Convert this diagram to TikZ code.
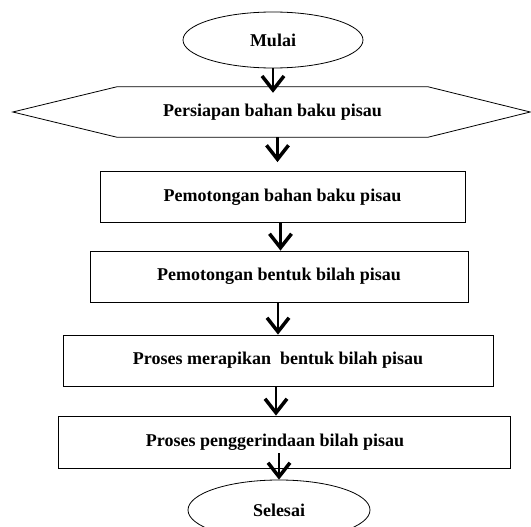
\documentclass[tikz,border=0pt]{standalone}
\usepackage{fontspec}
\setmainfont{Liberation Serif}
\usetikzlibrary{shapes.geometric,arrows.meta}

\begin{document}
\begin{tikzpicture}[x=1pt,y=-1pt,
	font=\fontsize{18}{20}\selectfont\bfseries,
	box/.style={draw,line width=0.8pt,minimum height=51pt,inner sep=0pt},
	oval/.style={draw,ellipse,line width=0.8pt,inner sep=0pt},
	arr/.style={line width=2.5pt,-{Straight Barb[length=14pt,width=22pt,line width=3.5pt]}}]
	\clip (0,0) rectangle (531,527);
	\useasboundingbox (0,0) rectangle (531,527);
%
	\node[oval,minimum width=180pt,minimum height=56pt] (mulai) at (273,40) {Mulai};
	\node[minimum width=311pt,minimum height=50pt,inner sep=0pt] (persiapan) at (272.5,112) {Persiapan bahan baku pisau};
	\draw[line width=0.8pt] (persiapan.north west) -- (persiapan.north east) -- ([xshift=102pt]persiapan.east)
		-- (persiapan.south east) -- (persiapan.south west) -- ([xshift=-104pt]persiapan.west) -- cycle;
	\node[box,minimum width=365pt] (potong) at (282.5,197) {Pemotongan bahan baku pisau};
	\node[box,minimum width=378pt] (bentuk) at (279,276.5) {Pemotongan bentuk bilah pisau};
	\node[box,minimum width=430pt] (rapi) at (278,360.5) {Proses merapikan\ \ bentuk bilah pisau};
	\node[box,minimum width=452pt,minimum height=52pt] (gerinda) at (284,442) {\hspace*{-18pt}Proses penggerindaan bilah pisau};
	\node[oval,minimum width=182pt,minimum height=60pt] (selesai) at (279,510) {Selesai};
%
	\draw[arr,shorten >=-6pt] (mulai.south) -- (mulai.south |- persiapan.north);
	\draw[arr,shorten >=9pt] ([xshift=5pt]persiapan.south) -- ([xshift=5pt]persiapan.south |- potong.north);
	\draw[arr] ([xshift=-2pt]potong.south) -- ([xshift=-2pt]potong.south |- bentuk.north);
	\draw[arr] ([xshift=-1pt]bentuk.south) -- ([xshift=-1pt]bentuk.south |- rapi.north);
	\draw[arr] ([xshift=-2pt]rapi.south) -- ([xshift=-2pt]rapi.south |- gerinda.north);
	\draw[arr] ([yshift=15pt]gerinda.south -| selesai.north) -- (selesai.north);
\end{tikzpicture}
\end{document}
